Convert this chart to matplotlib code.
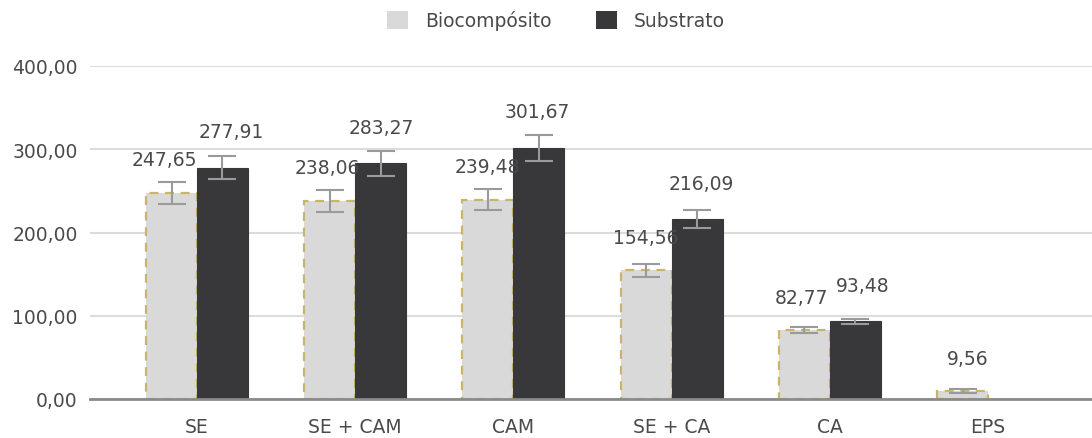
import matplotlib
matplotlib.use("Agg")
import matplotlib.pyplot as plt
import numpy as np
from matplotlib.patches import Patch

categories = ["SE", "SE + CAM", "CAM", "SE + CA", "CA", "EPS"]
bio_values = [247.65, 238.06, 239.48, 154.56, 82.77, 9.56]
bio_errors = [13, 13, 13, 8, 4, 2]
sub_values = [277.91, 283.27, 301.67, 216.09, 93.48, np.nan]
sub_errors = [14, 15, 16, 11, 3, np.nan]
bio_labels = ["247,65", "238,06", "239,48", "154,56", "82,77", "9,56"]
sub_labels = ["277,91", "283,27", "301,67", "216,09", "93,48", ""]
yticks = [0, 100, 200, 300, 400]
ytick_labels = ["0,00", "100,00", "200,00", "300,00", "400,00"]

plt.rcParams['font.family'] = ['DejaVu Sans']
TXT = "#4a4a4a"
FS = 13.5

fig = plt.figure(figsize=(10.92, 4.39), dpi=100)
ax = fig.add_axes([90/1092, 39/439, 1002/1092, 333/439])

x = np.arange(len(categories))
w = 0.322

ax.bar(x - w/2, bio_values, w, color="#d9d9d9", edgecolor="#c8b56a",
       linewidth=1.6, linestyle=(0, (4, 3)), zorder=3)
ax.bar(x + w/2, sub_values, w, color="#38383a", edgecolor="#38383a",
       linewidth=0.8, zorder=3)
ax.errorbar(x - w/2, bio_values, yerr=bio_errors, fmt="none", ecolor="#9a9a9a",
            elinewidth=1.5, capsize=10, capthick=1.5, zorder=4)
ax.errorbar(x + w/2, sub_values, yerr=sub_errors, fmt="none", ecolor="#9a9a9a",
            elinewidth=1.5, capsize=10, capthick=1.5, zorder=4)

nudge_b = [-7, -2, -1, 0, -3, 5]
nudge_s = [9, 1, -2, 4, 7, 0]
for i in range(len(categories)):
    ax.annotate(bio_labels[i], (x[i] - w/2, bio_values[i]), xytext=(nudge_b[i], 33),
                textcoords="offset pixels", ha="center", va="center",
                fontsize=FS, color=TXT, zorder=5)
    if sub_labels[i]:
        ax.annotate(sub_labels[i], (x[i] + w/2, sub_values[i]), xytext=(nudge_s[i], 36),
                    textcoords="offset pixels", ha="center", va="center",
                    fontsize=FS, color=TXT, zorder=5)

ax.set_xlim((90 - 197) / 158.2, (1092 - 197) / 158.2)
ax.set_ylim(0, 400)
ax.set_yticks(yticks)
ax.set_yticklabels(ytick_labels, fontsize=FS, color=TXT)
ax.set_xticks(x)
ax.set_xticklabels(categories, fontsize=FS, color=TXT)
ax.tick_params(axis="both", length=0)
ax.tick_params(axis="y", pad=9)
ax.tick_params(axis="x", pad=13)
ax.grid(axis="y", color="#dcdcdc", linewidth=1.5, zorder=0)
ax.set_axisbelow(True)
for s in ["top", "right", "left"]:
    ax.spines[s].set_visible(False)
ax.spines["bottom"].set_color("#8a8a8a")
ax.spines["bottom"].set_linewidth(2)
ax.spines["bottom"].set_zorder(6)

handles = [Patch(facecolor="#d9d9d9", edgecolor="none"),
           Patch(facecolor="#38383a", edgecolor="none")]
fig.legend(handles, ["Biocompósito", "Substrato"], loc="center",
           bbox_to_anchor=(556/1092, 1 - 21/439), ncol=2, frameon=False,
           fontsize=FS, labelcolor=TXT, handlelength=1.1, handleheight=1.1,
           columnspacing=2.4, handletextpad=0.9)

fig.savefig("out.png", dpi=100)
